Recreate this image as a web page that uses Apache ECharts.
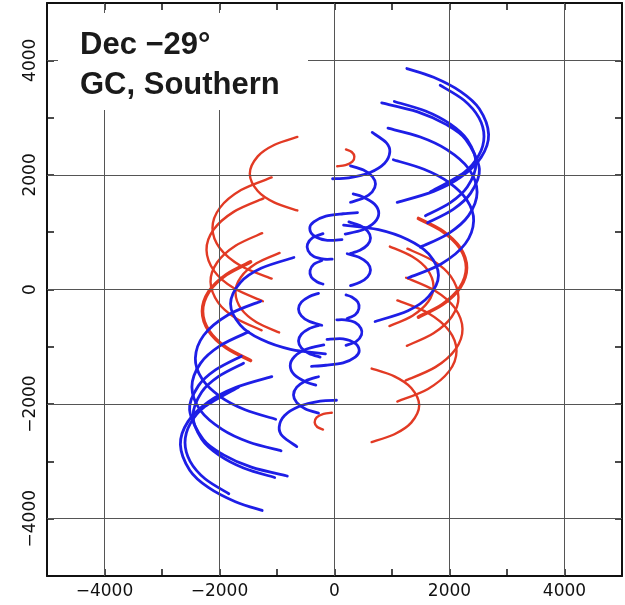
<!DOCTYPE html>
<html>
<head>
<meta charset="utf-8">
<script src="https://cdn.jsdelivr.net/npm/echarts/dist/echarts.min.js"></script>
<style>
html, body { margin: 0; padding: 0; background: #fff; }
#chart { width: 625px; height: 605px; }
</style>
</head>
<body>
<div id="chart"></div>
<script>
// major tick / grid positions, both axes
const tickValues = [-4000, -2000, 0, 2000, 4000];
const titleLines = ['Dec \u221229°', 'GC, Southern'];

// long blue tracks, upper right (u, v)
const blueTracksUpper = [
  [[1258,3856],[1723,3704],[2195,3454],[2518,3153],[2680,2708],[2549,2306],[2195,1962],[1723,1712],[1090,1520]],
  [[1838,3564],[2252,3303],[2511,2999],[2600,2672],[2511,2345],[2252,2042],[1671,1706]],
  [[821,3256],[1446,3101],[1930,2886],[2284,2617],[2520,2100],[2368,1682],[2064,1399],[1620,1164]],
  [[1040,3281],[1582,3114],[2015,2885],[2312,2608],[2460,2200],[2312,1792],[2015,1515],[1582,1286]],
  [[930,2815],[1493,2661],[1954,2441],[2331,2111],[2480,1700],[2331,1289],[1981,976],[1493,739]],
  [[1023,2264],[1556,2099],[1982,1874],[2302,1563],[2420,1200],[2274,798],[1854,445],[1282,204]],
  [[158,1124],[765,1045],[1278,870],[1638,621],[1808,250],[1638,-121],[1278,-370],[706,-558]],
  [[656,2741],[904,2560],[962,2400],[872,2203],[618,2042],[249,1949],[-34,1933]]
];
// long blue tracks, lower left
const blueTracksLower = [
  [[-1258,-3856],[-1723,-3704],[-2195,-3454],[-2518,-3153],[-2680,-2708],[-2549,-2306],[-2195,-1962],[-1723,-1712],[-1090,-1520]],
  [[-1838,-3564],[-2252,-3303],[-2511,-2999],[-2600,-2672],[-2511,-2345],[-2252,-2042],[-1671,-1706]],
  [[-821,-3256],[-1446,-3101],[-1930,-2886],[-2284,-2617],[-2520,-2100],[-2368,-1682],[-2064,-1399],[-1620,-1164]],
  [[-1040,-3281],[-1582,-3114],[-2015,-2885],[-2312,-2608],[-2460,-2200],[-2312,-1792],[-2015,-1515],[-1582,-1286]],
  [[-930,-2815],[-1493,-2661],[-1954,-2441],[-2331,-2111],[-2480,-1700],[-2331,-1289],[-1981,-976],[-1493,-739]],
  [[-1023,-2264],[-1556,-2099],[-1982,-1874],[-2302,-1563],[-2420,-1200],[-2274,-798],[-1854,-445],[-1282,-204]],
  [[-158,-1124],[-765,-1045],[-1278,-870],[-1638,-621],[-1808,-250],[-1638,121],[-1278,370],[-706,558]],
  [[-656,-2741],[-904,-2560],[-962,-2400],[-872,-2203],[-618,-2042],[-249,-1949],[34,-1933]]
];

// short blue tracks near the v axis
const blueCoreUpper = [
  [[278,2158],[504,2085],[656,1975],[713,1840],[656,1705],[504,1595],[278,1522]],
  [[325,1668],[495,1616],[698,1488],[770,1330],[698,1172],[495,1044],[186,968]],
  [[400,1340],[150,1322],[-150,1280],[-360,1180],[-430,1070],[-360,940],[-150,860],[130,870]],
  [[250,1179],[443,1115],[576,1019],[626,900],[576,781],[443,685],[274,627]],
  [[-200,975],[-380,905],[-470,790],[-460,680],[-360,575],[-180,530],[-40,530]],
  [[221,624],[443,555],[576,459],[626,340],[576,221],[443,125],[278,68]],
  [[-220,505],[-360,440],[-425,330],[-405,220],[-300,130],[-200,95]]
];
const blueCoreLower = [
  [[-278,-2158],[-504,-2085],[-656,-1975],[-713,-1840],[-656,-1705],[-504,-1595],[-278,-1522]],
  [[-325,-1668],[-495,-1616],[-698,-1488],[-770,-1330],[-698,-1172],[-495,-1044],[-186,-968]],
  [[-400,-1340],[-150,-1322],[150,-1280],[360,-1180],[430,-1070],[360,-940],[150,-860],[-130,-870]],
  [[-250,-1179],[-443,-1115],[-576,-1019],[-626,-900],[-576,-781],[-443,-685],[-274,-627]],
  [[200,-975],[380,-905],[470,-790],[460,-680],[360,-575],[180,-530],[40,-530]],
  [[-221,-624],[-443,-555],[-576,-459],[-626,-340],[-576,-221],[-443,-125],[-278,-68]],
  [[220,-505],[360,-440],[425,-330],[405,-220],[300,-130],[200,-95]]
];

// red tracks
const redTracksUpper = [
  [[-646,2663],[-1042,2526],[-1335,2323],[-1473,2021],[-1335,1719],[-1042,1516],[-646,1379]],
  [[-1093,1955],[-1626,1735],[-1994,1425],[-2122,1073],[-1994,721],[-1626,411],[-1093,191]],
  [[-1235,1589],[-1754,1355],[-2105,1042],[-2226,690],[-2092,321],[-1754,25],[-1245,-205]],
  [[-1258,983],[-1722,764],[-2039,475],[-2156,134],[-2026,-224],[-1722,-496],[-1267,-712]],
  [[-955,638],[-1357,457],[-1629,215],[-1722,-57],[-1619,-343],[-1357,-571],[-963,-749]],
  [[200,2445],[300,2400],[345,2320],[310,2230],[190,2170],[47,2151]]
];
const redTracksLower = [
  [[646,-2663],[1042,-2526],[1335,-2323],[1473,-2021],[1335,-1719],[1042,-1516],[646,-1379]],
  [[1093,-1955],[1626,-1735],[1994,-1425],[2122,-1073],[1994,-721],[1626,-411],[1093,-191]],
  [[1235,-1589],[1754,-1355],[2105,-1042],[2226,-690],[2092,-321],[1754,-25],[1245,205]],
  [[1258,-983],[1722,-764],[2039,-475],[2156,-134],[2026,224],[1722,496],[1267,712]],
  [[955,-638],[1357,-457],[1629,-215],[1722,57],[1619,343],[1357,571],[963,749]],
  [[-200,-2445],[-300,-2400],[-345,-2320],[-310,-2230],[-190,-2170],[-47,-2151]]
];
// the heavier red pair
const redThick = [
  [[-1460,481],[-1880,260],[-2184,-35],[-2296,-379],[-2184,-723],[-1880,-1018],[-1460,-1239]],
  [[1460,-481],[1880,-260],[2184,35],[2296,379],[2184,723],[1880,1018],[1460,1239]]
];

const BLUE = '#1e1ee6';
const RED = '#e23a24';
const FONT = '"Liberation Sans", Arial, sans-serif';
const TICK_FONT = '"DejaVu Sans", sans-serif';

// one custom series per group; each item is a track drawn as a
// Catmull-Rom curve through its points, placed with api.coord
function trackSeries(tracks, color, width) {
  return {
    type: 'custom',
    coordinateSystem: 'cartesian2d',
    data: tracks.map(() => [0, 0]),
    silent: true,
    z: 3,
    renderItem: function (params, api) {
      const pts = tracks[params.dataIndex].map(p => api.coord(p));
      let d = 'M' + pts[0][0] + ' ' + pts[0][1];
      for (let i = 0; i < pts.length - 1; i++) {
        const p0 = pts[i - 1] || pts[i];
        const p1 = pts[i];
        const p2 = pts[i + 1];
        const p3 = pts[i + 2] || p2;
        const c1x = p1[0] + (p2[0] - p0[0]) / 6, c1y = p1[1] + (p2[1] - p0[1]) / 6;
        const c2x = p2[0] - (p3[0] - p1[0]) / 6, c2y = p2[1] - (p3[1] - p1[1]) / 6;
        d += ' C' + c1x + ' ' + c1y + ' ' + c2x + ' ' + c2y + ' ' + p2[0] + ' ' + p2[1];
      }
      return {
        type: 'path',
        shape: { pathData: d },
        style: { stroke: color, lineWidth: width, fill: 'none', lineCap: 'round', lineJoin: 'round' }
      };
    }
  };
}

function tickLabel(v) {
  if (tickValues.indexOf(v) < 0) return '';
  return String(v).replace('-', '\u2212');
}

const frame = { show: true, onZero: false, lineStyle: { color: '#111', width: 2 } };
const ticks = { show: true, inside: true, length: 7, lineStyle: { color: '#111', width: 1.5 } };

const series = [
  {
    type: 'line',
    data: [],
    z: 1,
    markLine: {
      silent: true,
      symbol: 'none',
      label: { show: false },
      lineStyle: { color: '#555', width: 1, type: 'solid' },
      data: tickValues.map(v => ({ xAxis: v })).concat(tickValues.map(v => ({ yAxis: v })))
    }
  },
  trackSeries(redTracksUpper.concat(redTracksLower), RED, 2.4),
  trackSeries(redThick, RED, 3.6),
  trackSeries(blueTracksUpper.concat(blueTracksLower), BLUE, 2.8),
  trackSeries(blueCoreUpper.concat(blueCoreLower), BLUE, 2.8)
];

const chart = echarts.init(document.getElementById('chart'), null, { renderer: 'canvas' });
chart.setOption({
  animation: false,
  grid: { left: 47, right: 3, top: 2, bottom: 29, containLabel: false },
  xAxis: [{
    type: 'value', min: -5000, max: 5000, interval: 1000, position: 'bottom',
    axisLine: frame, axisTick: ticks, splitLine: { show: false },
    axisLabel: { formatter: tickLabel, fontSize: 17, color: '#111', margin: 7, fontFamily: TICK_FONT }
  }, {
    type: 'value', min: -5000, max: 5000, interval: 1000, position: 'top',
    axisLine: frame, axisTick: ticks, splitLine: { show: false }, axisLabel: { show: false }
  }],
  yAxis: [{
    type: 'value', min: -5000, max: 5000, interval: 1000, position: 'left',
    axisLine: frame, axisTick: ticks, splitLine: { show: false },
    axisLabel: { formatter: tickLabel, fontSize: 17, color: '#111', margin: 8, rotate: 90, fontFamily: TICK_FONT }
  }, {
    type: 'value', min: -5000, max: 5000, interval: 1000, position: 'right',
    axisLine: frame, axisTick: ticks, splitLine: { show: false }, axisLabel: { show: false }
  }],
  graphic: [{
    type: 'rect', left: 58, top: 13, z: 10, silent: true,
    shape: { width: 250, height: 97 },
    style: { fill: '#fff' }
  }, {
    type: 'text', left: 80, top: 25, z: 11, silent: true,
    style: { text: titleLines.join('\n'), font: 'bold 31px ' + FONT, fill: '#1a1a1a', lineHeight: 40 }
  }],
  series: series
});
</script>
</body>
</html>
